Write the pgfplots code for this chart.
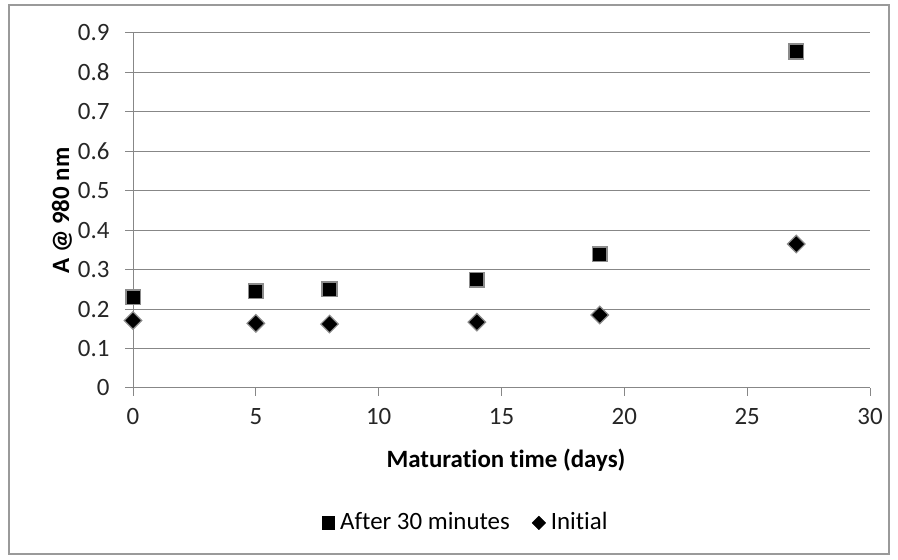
\documentclass[border=0pt]{standalone}
\usepackage{fontspec}
\setmainfont{Carlito}[Ligatures=NoCommon]
\usepackage{pgfplots}
\pgfplotsset{compat=1.18}
\definecolor{gridgray}{HTML}{878787}
\definecolor{framegray}{HTML}{9A9A9A}
\begin{document}
\fontsize{25}{29}\selectfont
\begin{tikzpicture}[x=1bp,y=1bp]
\useasboundingbox (0,0) rectangle (898,560);
\fill[white] (0,0) rectangle (898,560);
\draw[framegray, line width=1.2bp] (9,6) rectangle (889,555);
\begin{axis}[
  at={(133bp,172bp)}, anchor=south west,
  scale only axis, width=737bp, height=355bp,
  xmin=0, xmax=30, ymin=0, ymax=0.9,
  axis x line*=bottom, axis y line*=left,
  axis line style={gridgray, line width=1bp},
  xtick={0,5,10,15,20,25,30},
  ytick={0,0.1,0.2,0.3,0.4,0.5,0.6,0.7,0.8,0.9},
  yticklabels={0,0.1,0.2,0.3,0.4,0.5,0.6,0.7,0.8,0.9},
  xticklabels={0,5,10,15,20,25,30},
  ymajorgrids, major grid style={gridgray, line width=1bp},
  tick align=outside, major tick length=8bp,
  tick style={gridgray, line width=1bp},
  tick label style={font=\fontsize{25}{29}\selectfont, text=black!85},
  yticklabel style={xshift=-7bp},
  xticklabel style={yshift=-4bp},
  xlabel={\bfseries Maturation time (days)},
  ylabel={\bfseries A @ 980 nm},
  xlabel style={at={(axis description cs:0.506,-0.203)}, anchor=center, font=\fontsize{25}{29}\selectfont},
  ylabel style={at={(axis description cs:-0.0963,0.5)}, anchor=center, font=\fontsize{25}{29}\selectfont},
  legend style={at={(axis description cs:0.451,-0.380)}, anchor=center, draw=none, fill=none,
    legend columns=2, font=\fontsize{25}{29}\selectfont,
    /tikz/every even column/.append style={column sep=20bp},
    legend image code/.code={\path[draw=none,fill=none] (0bp,0bp) -- (17bp,0bp); \draw[#1] plot coordinates {(7bp,0bp)};}},
  legend cell align=left,
  clip=false,
]
\addplot[only marks, mark=square*, mark size=7.3bp,
  mark options={fill=black, draw=black!45, line width=1.6bp}, forget plot]
  coordinates {(0,0.230) (5,0.245) (8,0.250) (14,0.274) (19,0.339) (27,0.853)};
\addplot[only marks, mark=square*, mark size=6.2bp,
  mark options={rotate=45, fill=black, draw=black!45, line width=1.2bp}, forget plot]
  coordinates {(0,0.171) (5,0.164) (8,0.162) (14,0.167) (19,0.185) (27,0.365)};
\addlegendimage{only marks, mark=square*, mark size=6.3bp, mark options={fill=black, draw=black}}
\addlegendentry{After 30 minutes}
\addlegendimage{only marks, mark=square*, mark size=4.8bp, mark options={rotate=45, fill=black, draw=black}}
\addlegendentry{Initial}
\end{axis}
\end{tikzpicture}
\end{document}
